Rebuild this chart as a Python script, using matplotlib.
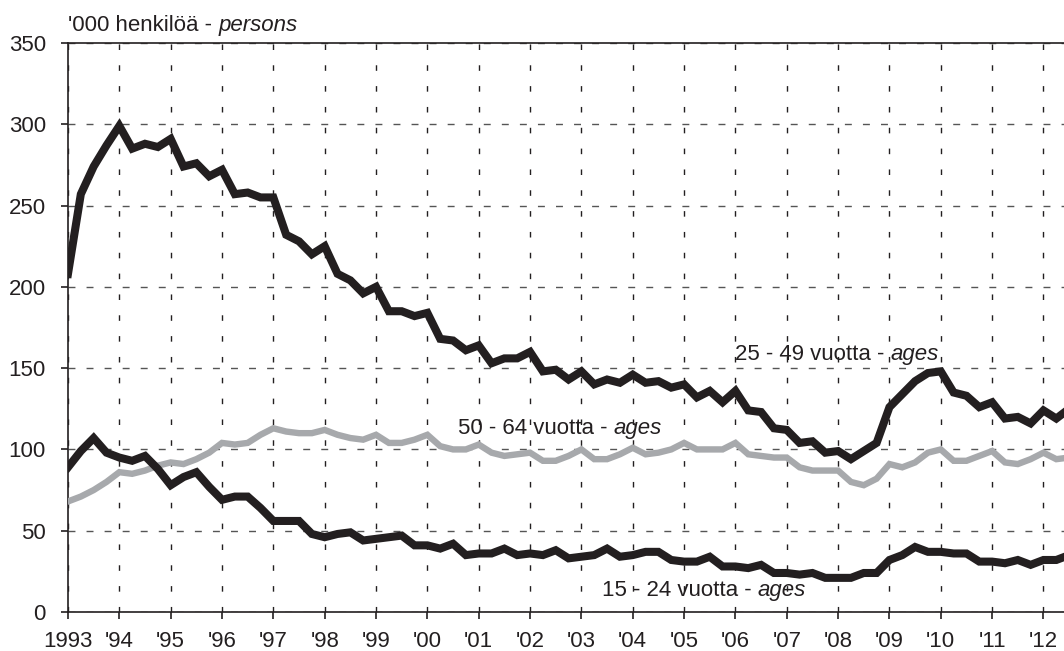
import numpy as np
import matplotlib
matplotlib.use('Agg')
import matplotlib.pyplot as plt

plt.rcParams['font.family'] = ['Liberation Sans', 'DejaVu Sans']

# neljännesvuodet 1993Q1 - 2012Q3
years = np.arange(1993, 2013)
quarters = np.array([y + q / 4 for y in years for q in range(4)])[:79]

ages_25_49 = [208, 257, 274, 287, 299, 285, 288, 286, 291, 274, 276, 268,
              272, 257, 258, 255, 255, 232, 228, 220, 225, 208, 204, 196,
              200, 185, 185, 182, 184, 168, 167, 161, 164, 153, 156, 156,
              160, 148, 149, 143, 148, 140, 143, 141, 146, 141, 142, 138,
              140, 132, 136, 129, 136, 124, 123, 113, 112, 104, 105, 98,
              99, 94, 99, 104, 126, 134, 142, 147, 148, 135, 133, 126,
              129, 119, 120, 116, 124, 119, 125]

ages_15_24 = [89, 99, 107, 98, 95, 93, 96, 88, 78, 83, 86, 77,
              69, 71, 71, 64, 56, 56, 56, 48, 46, 48, 49, 44,
              45, 46, 47, 41, 41, 39, 42, 35, 36, 36, 39, 35,
              36, 35, 38, 33, 34, 35, 39, 34, 35, 37, 37, 32,
              31, 31, 34, 28, 28, 27, 29, 24, 24, 23, 24, 21,
              21, 21, 24, 24, 32, 35, 40, 37, 37, 36, 36, 31,
              31, 30, 32, 29, 32, 32, 35]

ages_50_64 = [68, 71, 75, 80, 86, 85, 87, 90, 92, 91, 94, 98,
              104, 103, 104, 109, 113, 111, 110, 110, 112, 109, 107, 106,
              109, 104, 104, 106, 109, 102, 100, 100, 103, 98, 96, 97,
              98, 93, 93, 96, 100, 94, 94, 97, 101, 97, 98, 100,
              104, 100, 100, 100, 104, 97, 96, 95, 95, 89, 87, 87,
              87, 80, 78, 82, 91, 89, 92, 98, 100, 93, 93, 96,
              99, 92, 91, 94, 98, 94, 95]

tick_labels = ['1993'] + ["'%02d" % (y % 100) for y in years[1:]]

FS = 16
black = '#231f20'
grey = '#a7a9ac'

fig = plt.figure(figsize=(10.64, 6.51), dpi=100)
ax = fig.add_axes([0.0639, 0.0599, 0.9361, 0.8741])

ax.plot(quarters, ages_50_64, color=grey, lw=4.6, solid_joinstyle='miter', zorder=3)
ax.plot(quarters, ages_25_49, color=black, lw=5.8, solid_joinstyle='miter', zorder=4)
ax.plot(quarters, ages_15_24, color=black, lw=5.8, solid_joinstyle='miter', zorder=4)

ax.set_xlim(1993, 2012.4)
ax.set_ylim(0, 350)
ax.set_xticks(years)
ax.set_xticklabels(tick_labels)
ax.set_yticks(np.arange(0, 351, 50))

ax.grid(axis='x', color=black, lw=1.0, linestyle=(0, (4, 11)))
ax.grid(axis='y', color='#555555', lw=1.0, linestyle=(0, (5, 8)))
ax.set_axisbelow(True)

ax.spines['right'].set_visible(False)
for s in ['left', 'bottom', 'top']:
    ax.spines[s].set_color(black)
    ax.spines[s].set_linewidth(1.2)

ax.tick_params(axis='both', labelsize=FS, colors=black, width=1.2, length=5)
ax.tick_params(axis='x', pad=8.5)
ax.tick_params(axis='y', pad=11)


def two_part_label(x, y, plain, italic, transform):
    # tavallinen teksti + kursivoitu loppuosa
    t = ax.text(x, y, plain, fontsize=FS, color=black, ha='left',
                va='center', zorder=5, transform=transform)
    fig.canvas.draw()
    bb = t.get_window_extent()
    x2 = transform.inverted().transform((bb.x1, bb.y0))[0]
    ax.text(x2, y, italic, fontsize=FS, color=black, ha='left',
            va='center', style='italic', zorder=5, transform=transform)


two_part_label(0, 1.031, "'000 henkilöä - ", 'persons', ax.transAxes)
two_part_label(2006.0, 158.5, '25 - 49 vuotta - ', 'ages', ax.transData)
two_part_label(2000.6, 113, '50 - 64 vuotta - ', 'ages', ax.transData)
two_part_label(2003.4, 13.4, '15 - 24 vuotta - ', 'ages', ax.transData)

fig.savefig('out.png', dpi=100)
